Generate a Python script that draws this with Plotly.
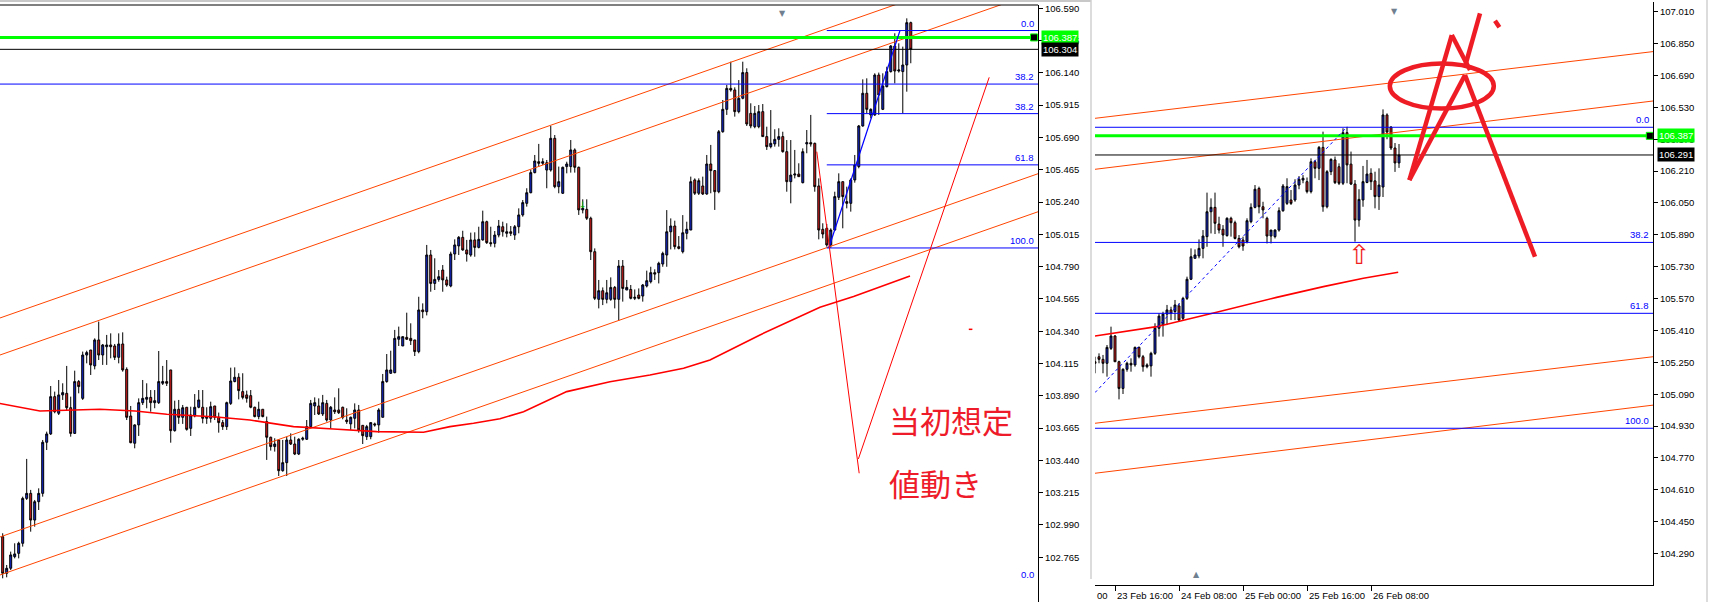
import plotly.graph_objects as go

W, H = 1710, 602

# ---------------- left panel candles (bar index 0..227) ----------------
left_open = [
    102.908, 102.653, 102.688, 102.769, 102.792, 102.862, 103.175, 103.210, 103.024, 103.152,
    103.210, 103.566, 103.624, 103.884, 103.768, 103.896, 103.907, 103.807, 103.628, 103.989,
    103.872, 104.174, 104.209, 104.098, 104.279, 104.174, 104.232, 104.244, 104.237, 104.158,
    104.251, 104.074, 103.749, 103.559, 103.687, 103.842, 103.866, 103.879, 103.842, 103.842,
    103.977, 103.989, 104.070, 103.647, 103.796, 103.740, 103.810, 103.663, 103.750, 103.810,
    103.810, 103.733, 103.733, 103.819, 103.740, 103.703, 103.675, 103.837, 103.989, 104.019,
    103.919, 103.896, 103.891, 103.810, 103.745, 103.796, 103.710, 103.601, 103.536, 103.582,
    103.368, 103.424, 103.582, 103.554, 103.484, 103.587, 103.587, 103.675, 103.819, 103.819,
    103.763, 103.837, 103.721, 103.791, 103.791, 103.810, 103.721, 103.694, 103.733, 103.791,
    103.684, 103.605, 103.605, 103.694, 103.687, 103.740, 103.989, 104.047, 104.051, 104.284,
    104.237, 104.297, 104.290, 104.279, 104.198, 104.488, 104.476, 104.871, 104.673, 104.701,
    104.766, 104.697, 104.655, 104.878, 104.934, 104.994, 104.906, 104.871, 104.976, 104.924,
    104.976, 105.103, 104.957, 104.952, 105.010, 105.068, 105.022, 105.033, 105.010, 105.068,
    105.150, 105.231, 105.305, 105.445, 105.521, 105.510, 105.463, 105.463, 105.684, 105.347,
    105.301, 105.487, 105.487, 105.603, 105.482, 105.185, 105.189, 105.127, 104.894, 104.562,
    104.622, 104.562, 104.562, 104.645, 104.562, 104.794, 104.627, 104.631, 104.569, 104.592,
    104.585, 104.655, 104.685, 104.748, 104.748, 104.808, 104.871, 105.033, 105.073, 104.929,
    104.894, 105.022, 105.045, 105.394, 105.301, 105.352, 105.296, 105.505, 105.459, 105.312,
    105.730, 105.886, 106.032, 106.021, 105.870, 105.963, 106.142, 105.858, 105.765, 105.765,
    105.870, 105.696, 105.626, 105.645, 105.677, 105.696, 105.591, 105.382, 105.428, 105.435,
    105.375, 105.645, 105.654, 105.649, 105.352, 105.050, 105.057, 104.941, 105.045, 105.273,
    105.382, 105.243, 105.231, 105.394, 105.487, 105.770, 105.998, 105.847, 105.847, 106.125,
    105.886, 106.044, 106.149, 106.327, 106.153, 106.149, 106.195, 106.490,
]
left_high = [
    102.932, 102.711, 102.804, 102.862, 102.873, 103.187, 103.450, 103.234, 103.164, 103.245,
    103.582, 103.640, 103.958, 103.919, 104.000, 103.977, 104.098, 103.884, 104.065, 104.000,
    104.198, 104.204, 104.209, 104.290, 104.407, 104.251, 104.314, 104.325, 104.251, 104.325,
    104.332, 104.088, 103.819, 103.691, 103.872, 104.000, 103.977, 103.930, 103.930, 104.202,
    104.098, 104.139, 104.070, 103.856, 103.861, 103.826, 103.810, 103.814, 103.902, 103.930,
    103.930, 103.810, 103.849, 103.819, 103.773, 103.721, 103.849, 104.086, 104.088, 104.047,
    104.047, 103.926, 103.930, 103.814, 103.849, 103.796, 103.745, 103.605, 103.594, 103.582,
    103.582, 103.605, 103.628, 103.605, 103.594, 103.605, 103.721, 103.861, 103.879, 103.872,
    103.896, 103.861, 103.819, 103.879, 103.942, 103.814, 103.803, 103.745, 103.837, 103.826,
    103.684, 103.687, 103.703, 103.703, 103.803, 104.042, 104.181, 104.204, 104.349, 104.372,
    104.302, 104.469, 104.395, 104.279, 104.580, 104.534, 104.941, 104.906, 104.848, 104.766,
    104.801, 104.720, 104.894, 104.980, 105.003, 105.040, 104.976, 105.027, 105.029, 105.068,
    105.180, 105.110, 105.068, 105.038, 105.115, 105.103, 105.092, 105.073, 105.080, 105.196,
    105.254, 105.336, 105.463, 105.568, 105.645, 105.545, 105.533, 105.770, 105.707, 105.487,
    105.487, 105.521, 105.672, 105.614, 105.487, 105.259, 105.259, 105.138, 104.917, 104.697,
    104.645, 104.697, 104.715, 104.655, 104.836, 104.836, 104.697, 104.662, 104.631, 104.638,
    104.669, 104.762, 104.789, 104.771, 104.824, 104.894, 105.184, 105.126, 105.110, 105.003,
    105.149, 105.103, 105.417, 105.405, 105.405, 105.417, 105.568, 105.638, 105.463, 105.742,
    105.951, 106.056, 106.218, 106.039, 106.090, 106.218, 106.172, 105.928, 105.909, 105.916,
    105.923, 105.765, 105.881, 105.747, 105.754, 105.730, 105.672, 105.672, 105.603, 105.510,
    105.614, 105.742, 105.847, 105.654, 105.405, 105.092, 105.087, 105.057, 105.312, 105.440,
    105.382, 105.347, 105.405, 105.568, 105.777, 106.095, 106.102, 105.893, 106.137, 106.142,
    106.137, 106.183, 106.334, 106.416, 106.346, 106.323, 106.520, 106.497,
]
left_low = [
    102.618, 102.625, 102.676, 102.757, 102.757, 102.839, 103.164, 102.943, 102.978, 103.094,
    103.187, 103.512, 103.617, 103.768, 103.756, 103.861, 103.791, 103.605, 103.624, 103.907,
    103.861, 104.116, 104.035, 104.074, 104.139, 104.105, 104.105, 104.151, 104.139, 104.116,
    104.058, 103.721, 103.559, 103.524, 103.610, 103.826, 103.803, 103.779, 103.803, 103.833,
    103.965, 103.958, 103.563, 103.640, 103.694, 103.694, 103.647, 103.610, 103.740, 103.803,
    103.698, 103.694, 103.703, 103.721, 103.633, 103.652, 103.652, 103.826, 103.984, 103.865,
    103.865, 103.842, 103.803, 103.740, 103.726, 103.740, 103.443, 103.508, 103.501, 103.331,
    103.361, 103.331, 103.547, 103.477, 103.477, 103.577, 103.582, 103.663, 103.756, 103.756,
    103.749, 103.710, 103.663, 103.763, 103.763, 103.726, 103.694, 103.652, 103.663, 103.633,
    103.554, 103.582, 103.587, 103.675, 103.633, 103.740, 103.981, 104.042, 104.047, 104.237,
    104.237, 104.279, 104.244, 104.167, 104.186, 104.430, 104.450, 104.615, 104.627, 104.685,
    104.615, 104.650, 104.646, 104.836, 104.871, 104.901, 104.825, 104.859, 104.859, 104.917,
    104.971, 104.948, 104.929, 104.924, 104.994, 104.999, 104.994, 105.003, 104.976, 105.022,
    105.138, 105.208, 105.301, 105.440, 105.487, 105.498, 105.336, 105.452, 105.336, 105.301,
    105.296, 105.440, 105.445, 105.445, 105.150, 105.161, 105.115, 104.836, 104.557, 104.499,
    104.522, 104.534, 104.552, 104.499, 104.413, 104.546, 104.627, 104.562, 104.557, 104.562,
    104.546, 104.645, 104.673, 104.697, 104.673, 104.789, 104.789, 104.910, 104.910, 104.910,
    104.882, 104.980, 105.045, 105.289, 105.289, 105.289, 105.291, 105.301, 105.185, 105.301,
    105.723, 105.847, 106.009, 105.835, 105.858, 105.956, 105.770, 105.754, 105.754, 105.754,
    105.696, 105.603, 105.614, 105.626, 105.626, 105.584, 105.312, 105.231, 105.405, 105.417,
    105.370, 105.580, 105.626, 105.312, 104.980, 104.987, 104.929, 104.921, 105.041, 105.254,
    105.057, 105.196, 105.173, 105.375, 105.475, 105.765, 105.858, 105.823, 105.840, 105.847,
    105.881, 106.039, 106.142, 106.067, 106.142, 105.858, 106.009, 106.207,
]
left_close = [
    102.653, 102.688, 102.781, 102.788, 102.862, 103.175, 103.210, 103.024, 103.152, 103.210,
    103.566, 103.624, 103.884, 103.779, 103.896, 103.912, 103.807, 103.628, 103.989, 103.954,
    104.174, 104.191, 104.105, 104.279, 104.174, 104.244, 104.244, 104.232, 104.158, 104.251,
    104.070, 103.740, 103.563, 103.687, 103.842, 103.872, 103.879, 103.842, 103.856, 103.989,
    103.989, 103.977, 103.647, 103.796, 103.740, 103.807, 103.656, 103.756, 103.810, 103.861,
    103.733, 103.745, 103.814, 103.740, 103.703, 103.675, 103.842, 103.993, 104.019, 103.926,
    103.879, 103.872, 103.810, 103.745, 103.796, 103.745, 103.601, 103.536, 103.554, 103.368,
    103.424, 103.582, 103.554, 103.484, 103.587, 103.594, 103.675, 103.837, 103.842, 103.763,
    103.842, 103.721, 103.810, 103.779, 103.772, 103.740, 103.710, 103.740, 103.791, 103.652,
    103.612, 103.675, 103.703, 103.687, 103.791, 103.989, 104.070, 104.070, 104.290, 104.302,
    104.302, 104.284, 104.274, 104.198, 104.488, 104.476, 104.871, 104.673, 104.701, 104.720,
    104.697, 104.662, 104.878, 104.941, 104.994, 104.906, 104.878, 104.976, 104.924, 104.980,
    105.103, 104.957, 104.950, 105.010, 105.073, 105.033, 105.033, 105.022, 105.068, 105.150,
    105.236, 105.305, 105.445, 105.526, 105.510, 105.521, 105.514, 105.684, 105.347, 105.382,
    105.482, 105.505, 105.603, 105.482, 105.185, 105.196, 105.127, 104.894, 104.569, 104.622,
    104.562, 104.608, 104.645, 104.562, 104.794, 104.638, 104.645, 104.569, 104.576, 104.569,
    104.662, 104.692, 104.748, 104.738, 104.813, 104.882, 105.033, 105.073, 104.929, 104.917,
    105.026, 105.050, 105.382, 105.301, 105.389, 105.296, 105.505, 105.459, 105.312, 105.730,
    105.886, 106.032, 106.021, 105.870, 105.963, 106.142, 105.784, 105.770, 105.858, 105.870,
    105.696, 105.626, 105.649, 105.677, 105.696, 105.591, 105.382, 105.428, 105.435, 105.417,
    105.591, 105.654, 105.645, 105.347, 105.045, 105.017, 104.941, 105.045, 105.278, 105.382,
    105.278, 105.231, 105.394, 105.498, 105.770, 105.998, 105.886, 105.886, 106.125, 105.986,
    106.049, 106.149, 106.327, 106.153, 106.160, 106.195, 106.490, 106.304,
]
left_bar = list(range(len(left_close)))

# ---------------- right panel candles (hours from 23 Feb 16:00) ----------------
right_hour = list(range(-5, 72))
right_open = [
    105.253, 105.278, 105.265, 105.245, 105.320, 105.382, 105.253, 105.119, 105.215, 105.245,
    105.237, 105.325, 105.278, 105.228, 105.232, 105.295, 105.421, 105.437, 105.492, 105.513,
    105.505, 105.533, 105.471, 105.571, 105.667, 105.772, 105.784, 105.822, 105.881, 106.006,
    106.028, 105.944, 105.918, 105.886, 105.973, 105.951, 105.872, 105.864, 105.856, 105.956,
    106.028, 106.123, 106.031, 105.973, 105.884, 105.881, 105.914, 106.011, 106.048, 106.065,
    106.065, 106.140, 106.165, 106.157, 106.107, 106.257, 106.224, 106.329, 106.031, 106.207,
    106.266, 106.232, 106.149, 106.403, 106.245, 106.145, 105.964, 106.065, 106.153, 106.199,
    106.161, 106.082, 106.130, 106.492, 106.431, 106.326, 106.251,
]
right_high = [
    105.278, 105.295, 105.287, 105.337, 105.429, 105.387, 105.258, 105.220, 105.253, 105.270,
    105.329, 105.329, 105.287, 105.245, 105.303, 105.446, 105.496, 105.504, 105.538, 105.529,
    105.563, 105.546, 105.579, 105.680, 105.822, 105.817, 105.867, 105.914, 106.102, 106.073,
    106.102, 105.981, 105.939, 105.978, 105.981, 105.961, 105.889, 105.881, 105.973, 106.048,
    106.140, 106.132, 106.056, 105.981, 105.914, 105.918, 106.028, 106.145, 106.174, 106.115,
    106.169, 106.185, 106.190, 106.178, 106.274, 106.266, 106.336, 106.408, 106.215, 106.274,
    106.283, 106.249, 106.425, 106.432, 106.308, 106.165, 106.119, 106.236, 106.266, 106.224,
    106.207, 106.224, 106.520, 106.500, 106.436, 106.351, 106.346,
]
right_low = [
    105.195, 105.245, 105.195, 105.178, 105.312, 105.253, 105.064, 105.091, 105.203, 105.203,
    105.228, 105.270, 105.203, 105.220, 105.178, 105.287, 105.379, 105.379, 105.437, 105.462,
    105.462, 105.454, 105.462, 105.563, 105.663, 105.772, 105.772, 105.772, 105.830, 105.897,
    105.894, 105.897, 105.830, 105.881, 105.881, 105.867, 105.822, 105.810, 105.847, 105.948,
    106.023, 105.998, 105.973, 105.847, 105.847, 105.872, 105.906, 106.006, 106.040, 106.040,
    106.056, 106.119, 106.149, 106.098, 106.098, 106.174, 106.165, 106.006, 106.023, 106.190,
    106.145, 106.140, 106.140, 106.149, 106.140, 105.856, 105.931, 106.031, 106.149, 106.115,
    106.023, 106.015, 106.080, 106.370, 106.316, 106.206, 106.226,
]
right_close = [
    105.245, 105.265, 105.245, 105.325, 105.382, 105.253, 105.119, 105.215, 105.245, 105.237,
    105.325, 105.278, 105.228, 105.237, 105.295, 105.421, 105.482, 105.492, 105.513, 105.496,
    105.538, 105.462, 105.571, 105.667, 105.780, 105.789, 105.822, 105.884, 106.006, 106.028,
    105.948, 105.914, 105.889, 105.973, 105.951, 105.872, 105.830, 105.834, 105.961, 106.028,
    106.119, 106.031, 106.015, 105.884, 105.914, 105.914, 106.011, 106.135, 106.132, 106.048,
    106.140, 106.169, 106.174, 106.107, 106.257, 106.224, 106.329, 106.031, 106.207, 106.269,
    106.152, 106.149, 106.403, 106.241, 106.145, 105.964, 106.068, 106.157, 106.195, 106.157,
    106.082, 106.140, 106.492, 106.406, 106.326, 106.251, 106.291,
]

for arr in (left_open, left_high, left_low):
    if len(arr) != len(left_close):
        raise ValueError("left arrays differ in length")
for arr in (right_open, right_high, right_low, right_close):
    if len(arr) != len(right_hour):
        raise ValueError("right arrays differ in length")

# ---------------- axis ticks ----------------
left_ticks = [102.765, 102.990, 103.215, 103.440, 103.665, 103.890, 104.115, 104.340, 104.565,
              104.790, 105.015, 105.240, 105.465, 105.690, 105.915, 106.140, 106.365, 106.590]
right_ticks = [104.290, 104.450, 104.610, 104.770, 104.930, 105.090, 105.250, 105.410, 105.570,
               105.730, 105.890, 106.050, 106.210, 106.370, 106.530, 106.690, 106.850, 107.010]
right_xticks = [0, 16, 32, 48, 64]
right_xlabels = ["23 Feb 16:00", "24 Feb 08:00", "25 Feb 00:00", "25 Feb 16:00", "26 Feb 08:00"]

# ---------------- levels & objects ----------------
fib_names = ["0.0", "38.2", "61.8", "100.0"]
left_fib = [106.435, 105.856, 105.499, 104.920]
right_fib = [106.430, 105.852, 105.496, 104.919]
left_fib_start_bar = 206.0
left_fib_long = 106.062
left_fib_bottom = 102.595
green_price = 106.387
left_bid = 106.304
right_bid = 106.291

left_channel_bar = [-1, 260]
left_channel = [[104.429, 106.975], [104.171, 106.717], [102.903, 105.449], [102.638, 105.184]]
right_channel_hour = [-5, 134.5]
right_channel = [[106.475, 106.810], [106.219, 106.562], [104.944, 105.278], [104.693, 105.035]]

left_ma_bar = [-1, 9.3, 24.3, 33.1, 41.0, 52.7, 61.8, 72.7, 82.7, 93.5, 105.2, 111.8, 117.7,
               124.3, 130.2, 141.0, 151.8, 161.8, 170.2, 176.8, 189.3, 195.2, 204.3, 212.7, 226.8]
left_ma = [103.838, 103.784, 103.796, 103.784, 103.761, 103.744, 103.721, 103.675, 103.659,
           103.640, 103.636, 103.675, 103.698, 103.730, 103.779, 103.919, 103.988, 104.035,
           104.082, 104.140, 104.314, 104.390, 104.507, 104.581, 104.725]
right_ma_hour = [-5, 10.4, 25.4, 40.4, 52.1, 62.1, 70.8]
right_ma = [105.382, 105.429, 105.501, 105.576, 105.630, 105.672, 105.702]

left_fib_trend_bar = [206.5, 224.3]
left_fib_trend = [104.920, 106.435]
right_fib_trend_hour = [-5, 58]
right_fib_trend = [105.098, 106.432]

scenario_bar_down = [203.5, 214.1]
scenario_down = [105.591, 103.350]
scenario_bar_up = [213.9, 246.6]
scenario_up = [103.450, 106.109]
stray_bar = [241.5, 242.4]
stray = [104.353, 104.353]

strokes_hour = [[73.6, 84.2], [73.6, 87.5], [87.5, 105.0], [84.2, 88.75], [91.25, 87.5], [95.0, 96.1]]
strokes_price = [[106.165, 106.893], [106.165, 106.692], [106.692, 105.780],
                 [106.893, 106.718], [107.002, 106.734], [106.965, 106.932]]
ellipse_hour = [68.7, 94.7]
ellipse_price = [106.524, 106.750]

# ---------------- styling ----------------
BULL = "#1428D2"
BEAR = "#DC1E1E"
ORANGE = "#FF4500"
MA_RED = "#FF0000"
FIB_BLUE = "#0000FF"
GREEN = "#00FF00"
INK = "#EE1C25"
TICK_FONT = dict(family="Liberation Sans, Arial, sans-serif", size=9.5, color="black")

fig = go.Figure()
LEFT = dict(xaxis="x", yaxis="y")
RIGHT = dict(xaxis="x2", yaxis="y2")


def add_line(x, y, color, width, axes, dash="solid"):
    fig.add_trace(go.Scatter(x=x, y=y, mode="lines", hoverinfo="skip",
                             line=dict(color=color, width=width, dash=dash), **axes))


def add_candles(x, o, h, l, c, axes):
    fig.add_trace(go.Candlestick(
        x=x, open=o, high=h, low=l, close=c, hoverinfo="skip", whiskerwidth=0,
        increasing=dict(fillcolor=BULL, line=dict(color="black", width=1)),
        decreasing=dict(fillcolor=BEAR, line=dict(color="black", width=1)),
        **axes))


add_candles(left_bar, left_open, left_high, left_low, left_close, LEFT)
add_candles(right_hour, right_open, right_high, right_low, right_close, RIGHT)

# left panel objects
for ch in left_channel:
    add_line(left_channel_bar, ch, ORANGE, 1, LEFT)
add_line(left_ma_bar, left_ma, MA_RED, 1.6, LEFT)
full_left = [-1, 260]
add_line(full_left, [left_fib_long] * 2, FIB_BLUE, 1, LEFT)
for lv in left_fib:
    add_line([left_fib_start_bar, 260], [lv, lv], FIB_BLUE, 1, LEFT)
add_line(full_left, [left_bid] * 2, "black", 1, LEFT)
add_line(full_left, [green_price] * 2, GREEN, 3, LEFT)
add_line(left_fib_trend_bar, left_fib_trend, FIB_BLUE, 1.2, LEFT)
add_line(scenario_bar_down, scenario_down, MA_RED, 1, LEFT)
add_line(scenario_bar_up, scenario_up, MA_RED, 1, LEFT)
add_line(stray_bar, stray, MA_RED, 1.5, LEFT)

# right panel objects
for ch in right_channel:
    add_line(right_channel_hour, ch, ORANGE, 1, RIGHT)
add_line(right_ma_hour, right_ma, MA_RED, 1.6, RIGHT)
full_right = [-6, 136]
for lv in right_fib:
    add_line(full_right, [lv, lv], FIB_BLUE, 1, RIGHT)
add_line(full_right, [right_bid] * 2, "black", 1, RIGHT)
add_line(full_right, [green_price] * 2, GREEN, 3, RIGHT)
add_line(right_fib_trend_hour, right_fib_trend, FIB_BLUE, 1, RIGHT, dash="dot")
for sx, sy in zip(strokes_hour, strokes_price):
    add_line(sx, sy, INK, 4.5, RIGHT)

# line-end squares
fig.add_trace(go.Scatter(x=[257.8], y=[green_price], mode="markers", hoverinfo="skip",
                         marker=dict(symbol="square", size=7, color="black",
                                     line=dict(color=GREEN, width=1)), **LEFT))
fig.add_trace(go.Scatter(x=[133.7], y=[green_price], mode="markers", hoverinfo="skip",
                         marker=dict(symbol="square", size=7, color="black",
                                     line=dict(color=GREEN, width=1)), **RIGHT))

# ---------------- annotations ----------------
ann = []


def price_box(xpx, yref, price, bg):
    ann.append(dict(x=xpx / W, xref="paper", xanchor="left", y=price, yref=yref, yanchor="middle",
                    text=f"{price:.3f}", showarrow=False, bgcolor=bg, borderpad=1,
                    font=dict(family=TICK_FONT["family"], size=9.5, color="white")))


price_box(1041, "y", green_price, GREEN)
price_box(1041, "y", left_bid, "black")
price_box(1657, "y2", green_price, GREEN)
price_box(1657, "y2", right_bid, "black")


def fib_label(xpx, yref, price, name):
    ann.append(dict(x=xpx / W, xref="paper", xanchor="right", y=price, yref=yref, yanchor="bottom",
                    text=name, showarrow=False,
                    font=dict(family=TICK_FONT["family"], size=9.5, color=FIB_BLUE)))


for lv, nm in zip(left_fib, fib_names):
    fib_label(1036, "y", lv, nm)
fib_label(1036, "y", left_fib_long, "38.2")
fib_label(1036, "y", left_fib_bottom, "0.0")
for lv, nm in zip(right_fib, fib_names):
    fib_label(1651, "y2", lv, nm)

# time labels of the right panel, left-aligned at their ticks just under the axis
for tv, tl in zip(right_xticks, right_xlabels):
    ann.append(dict(x=tv, xref="x2", xanchor="left", xshift=0, y=1 - 595 / H, yref="paper",
                    yanchor="middle", text=tl, showarrow=False, font=TICK_FONT))
ann.append(dict(x=1095 / W, y=1 - 595 / H, xref="paper", yref="paper", xanchor="left",
                yanchor="middle", text="00", showarrow=False, font=TICK_FONT))

jp_font = dict(family="Noto Sans CJK JP", size=31, color="#EE1C2A")
ann.append(dict(x=221, y=103.728, xref="x", yref="y", xanchor="left", yanchor="middle",
                text="当初想定", showarrow=False, font=jp_font))
ann.append(dict(x=221, y=103.289, xref="x", yref="y", xanchor="left", yanchor="middle",
                text="値動き", showarrow=False, font=jp_font))
ann.append(dict(x=145, y=105.22, xref="x", yref="y", text="↓", showarrow=False,
                font=dict(family="DejaVu Sans", size=9, color="#00B000")))
ann.append(dict(x=61.2, y=105.789, xref="x2", yref="y2", text="⇧", showarrow=False,
                font=dict(family="DejaVu Sans", size=27, color="#F01E1E")))
tri_font = dict(family="DejaVu Sans", size=8, color="#708090")
ann.append(dict(x=782 / W, y=1 - 7 / H, xref="paper", yref="paper", text="▼", showarrow=False,
                font=tri_font))
ann.append(dict(x=1400 / W, y=1 - 5 / H, xref="paper", yref="paper", text="▼", showarrow=False,
                font=tri_font))
ann.append(dict(x=1202 / W, y=1 - 581 / H, xref="paper", yref="paper", text="▲", showarrow=False,
                font=tri_font))

# ---------------- shapes (window chrome + ellipse) ----------------
shapes = [
    dict(type="circle", xref="x2", yref="y2", x0=ellipse_hour[0], x1=ellipse_hour[1],
         y0=ellipse_price[0], y1=ellipse_price[1], line=dict(color=INK, width=4.5)),
    dict(type="line", xref="paper", yref="paper", x0=0, x1=1038 / W, y0=1 - 5 / H, y1=1 - 5 / H,
         line=dict(color="black", width=1)),
    dict(type="line", xref="paper", yref="paper", x0=0, x1=1091 / W, y0=1 - 1 / H, y1=1 - 1 / H,
         line=dict(color="#C8C8C8", width=2)),
    dict(type="line", xref="paper", yref="paper", x0=1091 / W, x1=1091 / W, y0=1 - 579 / H, y1=1,
         line=dict(color="#D0D0D0", width=1.5)),
    dict(type="line", xref="paper", yref="paper", x0=1707 / W, x1=1707 / W, y0=0, y1=1,
         line=dict(color="#D0D0D0", width=1.5)),
]

axis_common = dict(showgrid=False, zeroline=False, fixedrange=True)

fig.update_layout(
    width=W, height=H, autosize=False, template="none",
    margin=dict(l=0, r=0, t=0, b=0, pad=0),
    paper_bgcolor="white", plot_bgcolor="white",
    showlegend=False, hovermode=False,
    font=dict(family=TICK_FONT["family"], size=10, color="black"),
    xaxis=dict(domain=[0, 1038 / W], range=[-0.675, 258.8], showticklabels=False, showline=False,
               ticks="", rangeslider=dict(visible=False), anchor="y", **axis_common),
    yaxis=dict(domain=[0, 1 - 5 / H], range=[102.453, 106.613], side="right", anchor="x",
               showline=True, linecolor="black", linewidth=1, ticks="outside", ticklen=4,
               tickcolor="black", tickwidth=1, tickvals=left_ticks,
               ticktext=[f"{v:.3f}" for v in left_ticks], tickfont=TICK_FONT, automargin=False,
               **axis_common),
    xaxis2=dict(domain=[1095 / W, 1653 / W], range=[-5, 134.5], anchor="y2",
                showline=True, linecolor="black", linewidth=1, ticks="outside", ticklen=5,
                tickcolor="black", tickwidth=1, tickvals=right_xticks, showticklabels=False,
                automargin=False, rangeslider=dict(visible=False), **axis_common),
    yaxis2=dict(domain=[17 / H, 1 - 2 / H], range=[104.132, 107.059], side="right", anchor="x2",
                showline=True, linecolor="black", linewidth=1, ticks="outside", ticklen=4,
                tickcolor="black", tickwidth=1, tickvals=right_ticks,
                ticktext=[f"{v:.3f}" for v in right_ticks], tickfont=TICK_FONT, automargin=False,
                **axis_common),
    annotations=ann,
    shapes=shapes,
)

fig.write_html("out.html", config={"displayModeBar": False, "staticPlot": True},
               post_script="document.body.style.margin='0';document.body.style.overflow='hidden';")
